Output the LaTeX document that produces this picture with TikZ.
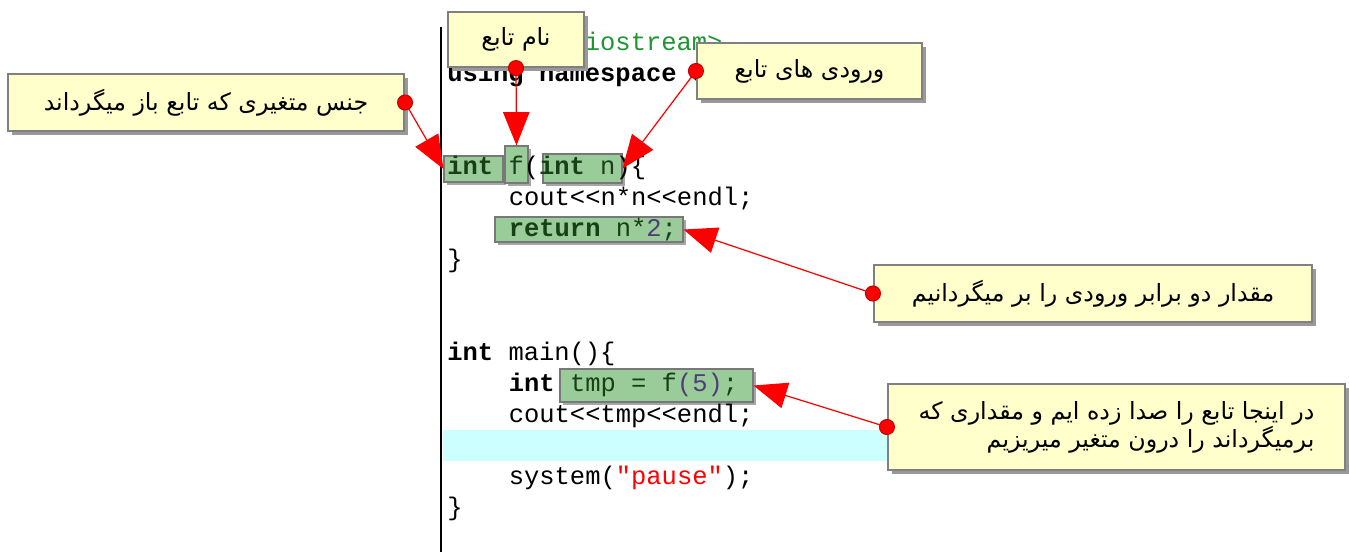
\documentclass[tikz,border=0pt]{standalone}
\usepackage{fontspec}
\newfontfamily\farsi[Script=Arabic]{DejaVu Sans}
\newfontfamily\codefont{Liberation Mono}
\TeXXeTstate=1
\usetikzlibrary{arrows.meta,shadows}

\definecolor{hlgreen}{RGB}{153,204,153}
\definecolor{hlborder}{RGB}{120,120,120}
\definecolor{hltext}{RGB}{24,64,24}
\definecolor{numpurple}{RGB}{80,60,120}
\definecolor{notefill}{RGB}{255,255,204}
\definecolor{noteborder}{RGB}{128,128,128}
\definecolor{bandcyan}{RGB}{204,255,255}
\definecolor{ppgreen}{RGB}{30,150,50}
\definecolor{dotborder}{RGB}{200,0,0}

\newlength\px
\setlength\px{0.02cm}
\newcommand\kw[1]{\textbf{#1}}
\newcommand\hl[1]{\textcolor{hltext}{#1}}

\begin{document}
\begin{tikzpicture}[x=0.02cm,y=-0.02cm,
	hlbox/.style={draw=hlborder, fill=hlgreen, line width=0.6pt, inner sep=0pt,
		drop shadow={shadow xshift=3\px, shadow yshift=-3\px, fill=black!35, opacity=1}},
	note/.style={draw=noteborder, fill=notefill, line width=1.2pt, inner sep=0pt, align=right,
		font=\farsi\fontsize{13.5}{16}\selectfont,
		drop shadow={shadow xshift=4\px, shadow yshift=-4\px, fill=black!40, opacity=1}},
	code/.style={anchor=base west, inner sep=0pt, font=\codefont\fontsize{14.5}{14.5}\selectfont},
	reddot/.style={circle, draw=dotborder, fill=red, line width=0.6pt, minimum size=15\px, inner sep=0pt},
	callarrow/.style={draw=red, line width=0.7pt, -{Triangle[length=19pt,width=15pt,fill=red]}}
	]
	\useasboundingbox (0,0) rectangle (1349,552);

	% editor background
	\fill[bandcyan] (443,430) rectangle (1000,461);
	\draw[line width=1.3pt] (441,27) -- (441,552);

	% highlighted parts of the code
	\node[hlbox, minimum width=59\px, minimum height=26\px] (tybox) at (473.5,169) {};
	\node[hlbox, minimum width=23\px, minimum height=37\px] (fnbox) at (516.5,164.5) {};
	\node[hlbox, minimum width=79\px, minimum height=29\px] (argbox) at (582.5,168.5) {};
	\node[hlbox, minimum width=188\px, minimum height=25\px] (retbox) at (589,229.5) {};
	\node[hlbox, minimum width=193\px, minimum height=33\px] (callbox) at (656.5,385.5) {};

	% code
	\node[code, text=ppgreen] (l1) at (447,50) {\#include<iostream>};
	\node[code] (l2) at (447,81) {\kw{using namespace} std;};
	\node[code] (l5) at (447,174) {\hl{\kw{int}} \hl{f}(\hl{\kw{int} n})\{};
	\node[code] (l6) at (508.5,205) {cout<<n*n<<endl;};
	\node[code] (l7) at (508.5,236) {\hl{\kw{return} n*}\textcolor{numpurple}{2}\hl{;}};
	\node[code] (l8) at (447,267) {\}};
	\node[code] (l11) at (447,360) {\kw{int} main()\{};
	\node[code] (l12) at (508.5,391) {\kw{int} \hl{tmp = f}\textcolor{numpurple}{(5)}\hl{;}};
	\node[code] (l13) at (508.5,422) {cout<<tmp<<endl;};
	\node[code] (l15) at (508.5,484) {system(\textcolor{red}{"pause"});};
	\node[code] (l16) at (447,515) {\}};

	% callouts
	\node[note, minimum width=396\px, minimum height=57\px] (retnote) at (206,102.5)
		{\beginR جنس متغیری که تابع باز میگرداند\endR};
	\node[note, minimum width=136\px, minimum height=55\px] (namenote) at (516,39.5)
		{\beginR نام تابع\endR};
	\node[note, minimum width=225\px, minimum height=56\px] (argnote) at (809.5,71)
		{\beginR ورودی های تابع\endR};
	\node[note, minimum width=438\px, minimum height=57\px] (dblnote) at (1093,293.5)
		{\beginR مقدار دو برابر ورودی را بر میگردانیم\endR};
	\node[note, minimum width=457\px, minimum height=86\px] (callnote) at (1116.5,427)
		{\beginR در اینجا تابع را صدا زده ایم و مقداری که\endR\\
		 \beginR برمیگرداند را درون متغیر میریزیم\endR};

	% connectors
	\draw[callarrow] (retnote.east) -- (tybox.west);
	\draw[callarrow] (namenote.south) -- (fnbox.north);
	\draw[callarrow] (argnote.west) -- (argbox.east);
	\draw[callarrow] (dblnote.west) -- (retbox.east);
	\draw[callarrow] (callnote.west) -- (callbox.east);

	\node[reddot] (retdot) at (retnote.east) {};
	\node[reddot] (namedot) at (namenote.south) {};
	\node[reddot] (argdot) at (argnote.west) {};
	\node[reddot] (dbldot) at (dblnote.west) {};
	\node[reddot] (calldot) at (callnote.west) {};
\end{tikzpicture}
\end{document}
